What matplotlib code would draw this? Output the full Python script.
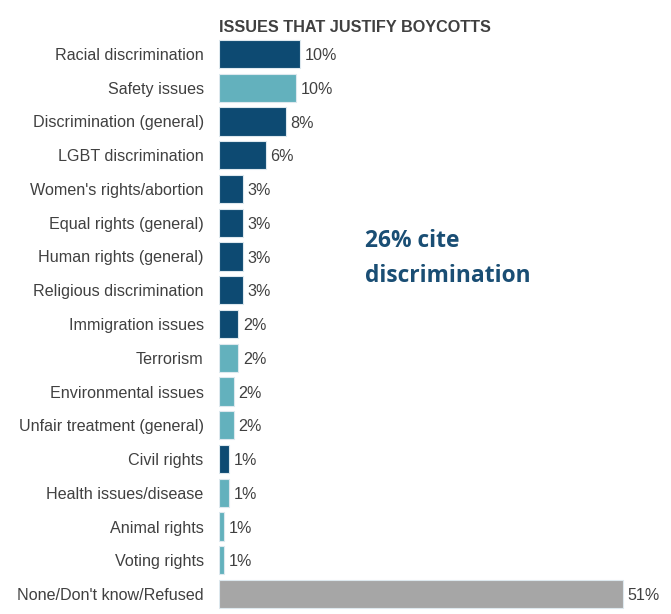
import matplotlib
matplotlib.use("Agg")
import matplotlib.pyplot as plt

categories = [
    "Racial discrimination", "Safety issues", "Discrimination (general)",
    "LGBT discrimination", "Women's rights/abortion", "Equal rights (general)",
    "Human rights (general)", "Religious discrimination", "Immigration issues",
    "Terrorism", "Environmental issues", "Unfair treatment (general)",
    "Civil rights", "Health issues/disease", "Animal rights", "Voting rights",
    "None/Don't know/Refused",
]
values = [10.25, 9.7, 8.45, 5.95, 3.05, 3.05, 3.05, 3.05, 2.45, 2.45,
          1.85, 1.85, 1.25, 1.25, 0.63, 0.63, 51.0]
groups = ["disc", "other", "disc", "disc", "disc", "disc", "disc", "disc",
          "disc", "other", "other", "other", "disc", "other", "other", "other",
          "none"]

title = "ISSUES THAT JUSTIFY BOYCOTTS"
callout = "26% cite\ndiscrimination"

palette = {"disc": "#0D4A72", "other": "#63B1BD", "none": "#A6A6A6"}

W, H, DPI = 671, 614, 100
fig = plt.figure(figsize=(W / DPI, H / DPI), dpi=DPI)
fig.patch.set_facecolor("white")

left_px, right_px = 219, 671
top_px, bottom_px = 37.1, 610.9
ax = fig.add_axes([left_px / W, (H - bottom_px) / H,
                   (right_px - left_px) / W, (bottom_px - top_px) / H])
px_per_unit = 7.93
ax.set_xlim(0, (right_px - left_px) / px_per_unit)
ax.set_ylim(len(categories) - 0.5, -0.5)

ypos = list(range(len(categories)))
ax.barh(ypos, values, height=0.84, color=[palette[g] for g in groups],
        edgecolor="#DDE8EE", linewidth=0.8)

for y, v in zip(ypos, values):
    ax.text(v + 0.55, y + 0.05, f"{round(v):d}%", va="center", ha="left",
            fontsize=11.6, color="#404040", family="Liberation Sans")

ax.set_yticks(ypos)
ax.set_yticklabels(categories, fontsize=11.6, color="#404040", family="Liberation Sans")
ax.tick_params(axis="y", length=0, pad=11)
ax.set_xticks([])
for s in ax.spines.values():
    s.set_visible(False)
ax.patch.set_alpha(0)

fig.text(219 / W, 1 - 28 / H, title, fontsize=11.7, fontweight="bold",
         color="#404040", family="Liberation Sans", ha="left", va="center")

fig.text(365 / W, 1 - 282 / H, callout, fontsize=16.4, fontweight="bold",
         color="#1A4E74", family="Open Sans", ha="left", va="baseline",
         linespacing=1.62)

fig.savefig("out.png", dpi=DPI, facecolor="white")
